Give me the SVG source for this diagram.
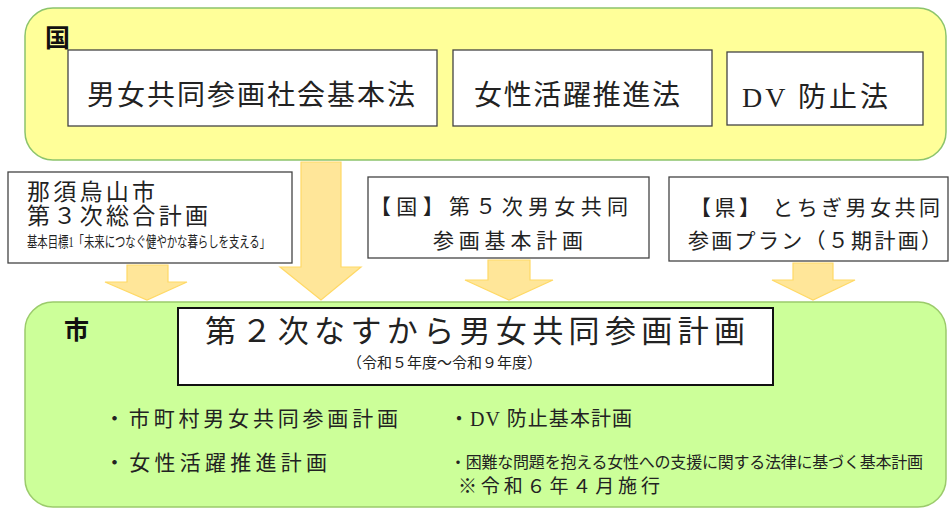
<svg xmlns="http://www.w3.org/2000/svg" width="949" height="510" viewBox="0 0 949 510">
<style>
text{font-family:"Liberation Serif","Noto Sans CJK JP",serif;fill:#222}
.bx{fill:#fff;stroke:#444;stroke-width:1.3}
.arr{fill:#FFE699;stroke:#FFD966;stroke-width:1.2}
.lbl{font-weight:bold;font-size:25px;fill:#111}
</style>
<rect width="949" height="510" fill="#fff"/>
<g id="kuni">
<rect x="25" y="8" width="921" height="152" rx="28" fill="#FFFF99" stroke="#8CC46C" stroke-width="1.5"/>
<text class="lbl" x="45" y="47">国</text>
</g>
<g id="law1"><rect class="bx" x="68" y="50" width="369" height="76"/><text x="87" y="105" font-size="28" textLength="328">男女共同参画社会基本法</text></g>
<g id="law2"><rect class="bx" x="453" y="50" width="259" height="76"/><text x="474" y="105" font-size="28" textLength="206">女性活躍推進法</text></g>
<g id="law3"><rect class="bx" x="727" y="52" width="196" height="73"/><text x="742" y="107" font-size="28" textLength="146">DV 防止法</text></g>
<g id="city-plan"><rect class="bx" x="8" y="172" width="284" height="91"/>
<text x="27" y="200" font-size="23" textLength="128">那須烏山市</text>
<text x="27" y="224" font-size="23" textLength="181">第３次総合計画</text>
<text x="27" y="247" font-size="15" textLength="243" lengthAdjust="spacingAndGlyphs">基本目標1「未来につなぐ健やかな暮らしを支える」</text>
</g>
<g id="national-plan"><rect class="bx" x="368" y="177" width="281" height="81"/>
<text x="370" y="214" font-size="21" textLength="258">【国】第５次男女共同</text>
<text x="433" y="248" font-size="21" textLength="150">参画基本計画</text>
</g>
<g id="pref-plan"><rect class="bx" x="669" y="177" width="279" height="84"/>
<text x="690" y="215" font-size="21" textLength="250">【県】 とちぎ男女共同</text>
<text x="688" y="248" font-size="21" textLength="254">参画プラン（５期計画）</text>
</g>
<g id="shi">
<rect x="25" y="302" width="921" height="205" rx="28" fill="#CCFF99" stroke="#9BCB6B" stroke-width="1.5"/>
<text class="lbl" x="64" y="339">市</text>
<text x="104" y="426" font-size="21" textLength="294">・市町村男女共同参画計画</text>
<text x="104" y="470" font-size="21" textLength="223">・女性活躍推進計画</text>
<text x="449" y="426" font-size="20" textLength="183">・DV 防止基本計画</text>
<text x="450" y="468" font-size="16" textLength="473">・困難な問題を抱える女性への支援に関する法律に基づく基本計画</text>
<text x="458" y="493" font-size="19" textLength="202">※令和６年４月施行</text>
</g>
<g id="main-plan"><rect x="178" y="308" width="595" height="77" fill="#fff" stroke="#111" stroke-width="2"/>
<text x="205" y="342" font-size="31" textLength="540">第２次なすから男女共同参画計画</text>
<text x="347" y="368" font-size="15" textLength="195">（令和５年度～令和９年度）</text>
</g>
<g id="connectors">
<polygon class="arr" points="301,162 341,162 341,267 361,267 321,300 280,267 301,267"/>
<polygon class="arr" points="127,265 168,265 168,282 187,282 147,300 105,282 127,282"/>
<polygon class="arr" points="488,260 530,260 530,280 553,280 509,300 465,280 488,280"/>
<polygon class="arr" points="793,263 833,263 833,280 855,280 813,300 772,280 793,280"/>
</g>
</svg>
